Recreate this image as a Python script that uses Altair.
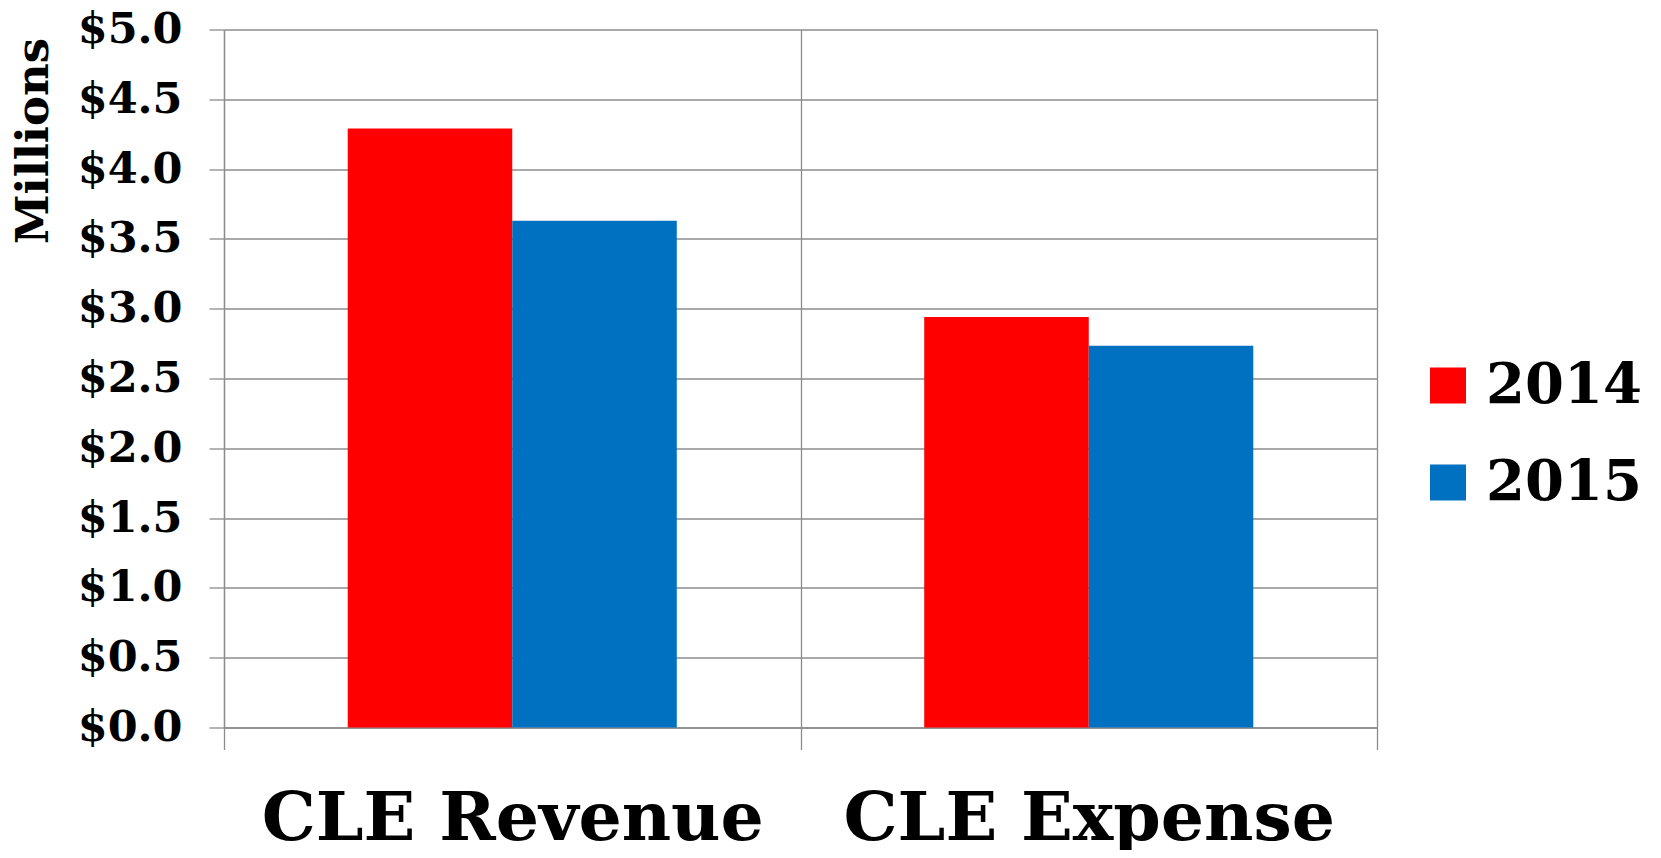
import altair as alt
import pandas as pd

categories = ["CLE Revenue", "CLE Expense"]
years = ["2014", "2015"]
values_2014 = [4.29, 2.94]
values_2015 = [3.63, 2.735]
colors = ["#FF0000", "#0070C0"]
y_ticks = [0, 0.5, 1.0, 1.5, 2.0, 2.5, 3.0, 3.5, 4.0, 4.5, 5.0]

rows = []
for i, c in enumerate(categories):
    rows.append({"category": c, "year": years[0], "value": values_2014[i]})
    rows.append({"category": c, "year": years[1], "value": values_2015[i]})
df = pd.DataFrame(rows)

FONT = "DejaVu Serif"
GRID = "#8c8c8c"

chart = alt.Chart(df).mark_bar().encode(
    x=alt.X(
        "category:N",
        sort=categories,
        title=None,
        scale=alt.Scale(paddingInner=0, paddingOuter=0),
        axis=alt.Axis(
            labelAngle=0,
            tickBand="extent",
            grid=True,
            gridColor=GRID,
            gridWidth=1.3,
            domainColor=GRID,
            domainWidth=1.3,
            tickColor=GRID,
            tickWidth=1.3,
            tickSize=22,
            labelFont=FONT,
            labelFontWeight="bold",
            labelFontSize=68,
            labelColor="#000000",
            labelBaseline="alphabetic",
            labelPadding=90,
            labelLimit=0,
        ),
    ),
    xOffset=alt.XOffset(
        "year:N",
        sort=years,
        scale=alt.Scale(paddingInner=0, paddingOuter=0.752),
    ),
    y=alt.Y(
        "value:Q",
        scale=alt.Scale(domain=[0, 5], nice=False),
        axis=alt.Axis(
            values=y_ticks,
            format="$.1f",
            title="Millions",
            titleFont=FONT,
            titleFontWeight="bold",
            titleFontSize=45,
            titleColor="#000000",
            titleAngle=270,
            titleAlign="right",
            titleBaseline="middle",
            titleX=-191,
            titleY=8,
            titleLimit=0,
            grid=True,
            gridColor=GRID,
            gridWidth=1.3,
            domainColor=GRID,
            domainWidth=1.3,
            tickColor=GRID,
            tickWidth=1.3,
            tickSize=15,
            labelFont=FONT,
            labelFontWeight="bold",
            labelFontSize=43,
            labelColor="#000000",
            labelPadding=27,
            labelLimit=0,
        ),
    ),
    color=alt.Color(
        "year:N",
        sort=years,
        scale=alt.Scale(domain=years, range=colors),
        legend=alt.Legend(
            title=None,
            orient="none",
            legendX=1196,
            legendY=328,
            symbolType="square",
            symbolSize=1296,
            symbolStrokeWidth=0,
            labelFont=FONT,
            labelFontWeight="bold",
            labelFontSize=56,
            labelColor="#000000",
            labelOffset=10,
            labelLimit=0,
            rowPadding=41,
            padding=0,
        ),
    ),
).properties(
    width=1153,
    height=698,
    autosize=alt.AutoSizeParams(type="none"),
    padding={"left": 216, "top": 21.5, "right": 276, "bottom": 122},
).configure_view(stroke=None)

chart.save("out.html", embed_options={"renderer": "svg", "actions": False})
